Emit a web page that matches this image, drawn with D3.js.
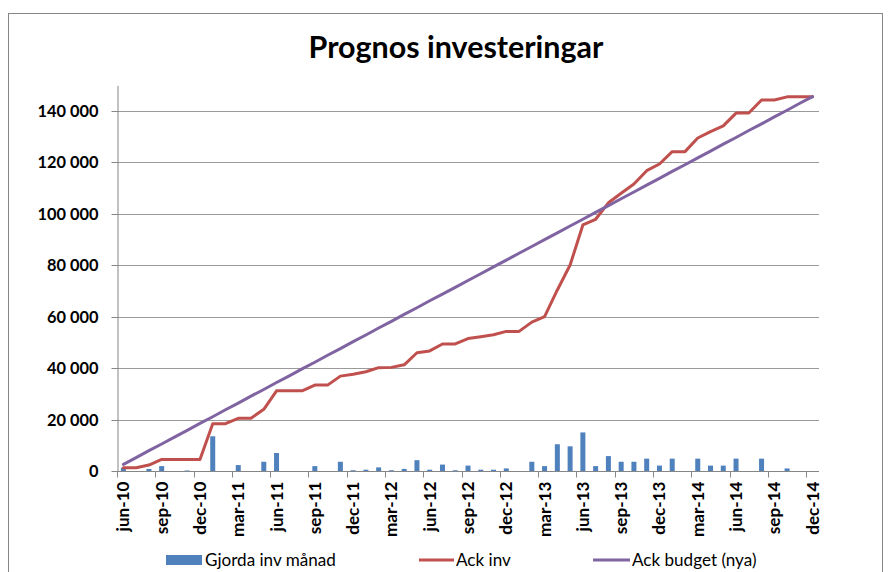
<!DOCTYPE html>
<html><head><meta charset="utf-8">
<script src="https://cdn.jsdelivr.net/npm/d3@7"></script>
<style>body{margin:0;background:#fff} svg{display:block}</style>
</head><body>
<svg id="c" width="893" height="572"></svg>
<script>
const title = "Prognos investeringar";
const categories = [
 "jun-10","jul-10","aug-10","sep-10","okt-10","nov-10","dec-10",
 "jan-11","feb-11","mar-11","apr-11","maj-11","jun-11","jul-11","aug-11","sep-11","okt-11","nov-11","dec-11",
 "jan-12","feb-12","mar-12","apr-12","maj-12","jun-12","jul-12","aug-12","sep-12","okt-12","nov-12","dec-12",
 "jan-13","feb-13","mar-13","apr-13","maj-13","jun-13","jul-13","aug-13","sep-13","okt-13","nov-13","dec-13",
 "jan-14","feb-14","mar-14","apr-14","maj-14","jun-14","jul-14","aug-14","sep-14","okt-14","nov-14","dec-14"];
const tickLabels = ["jun-10","sep-10","dec-10","mar-11","jun-11","sep-11","dec-11","mar-12","jun-12","sep-12","dec-12","mar-13","jun-13","sep-13","dec-13","mar-14","jun-14","sep-14","dec-14"];
const seriesNames = ["Gjorda inv månad","Ack inv","Ack budget (nya)"];
const gjordaInv = [1300,0,800,1900,0,200,0,13500,0,2300,0,3600,7000,0,0,1900,0,3600,300,500,1400,300,800,4200,500,2500,300,2100,500,500,1000,0,3600,1900,10400,9600,15000,1900,5800,3600,3600,4800,2100,4800,0,4800,2100,2100,4800,0,4800,0,1000,0,0];
const ackInv = [1300,1300,2300,4500,4500,4500,4500,18400,18400,20500,20500,24000,31200,31200,31200,33400,33400,36900,37600,38600,40200,40300,41300,46000,46700,49400,49400,51500,52200,53000,54300,54300,57900,60000,70400,80100,95700,97900,104300,108000,111600,116800,119400,124200,124200,129500,132000,134200,139200,139200,144300,144300,145500,145500,145500];
const ackBudget = [2600,5200,7900,10500,13200,15800,18500,21100,23800,26400,29100,31700,34400,37000,39700,42300,45000,47600,50300,52900,55600,58200,60900,63500,66200,68800,71400,74100,76700,79400,82000,84700,87300,90000,92600,95300,97900,100600,103200,105900,108500,111200,113800,116500,119100,121800,124400,127100,129700,132400,135000,137700,140300,143000,145600];
const yTicks = [0,20000,40000,60000,80000,100000,120000,140000];
const yMax = 150000;
const colors = ["#4F81BD","#C0504D","#8064A2"];

const W = 893, H = 572;
const svg = d3.select("#c");
const FONT = "Lato, 'Open Sans', sans-serif";
svg.append("rect").attr("width", W).attr("height", H).attr("fill", "#fff");
svg.append("rect").attr("x", 8.5).attr("y", 13.5).attr("width", 874).attr("height", 620)
  .attr("fill", "none").attr("stroke", "#868686").attr("stroke-width", 1);

const x = d3.scaleBand().domain(categories).range([117, 819]);
const y = d3.scaleLinear().domain([0, yMax]).range([471, 85.3]);
const cx = c => x(c) + x.bandwidth() / 2;

function fitText(sel, target) {
  const w = sel.node().getComputedTextLength();
  const fs = parseFloat(sel.attr("font-size"));
  sel.attr("font-size", fs * target / w);
  return fs * target / w;
}
function measureSize(str, weight, target) {
  const t = svg.append("text").attr("font-family", FONT).attr("font-weight", weight).attr("font-size", 20).text(str);
  const w = t.node().getComputedTextLength();
  t.remove();
  return 20 * target / w;
}

// gridlines
svg.append("g").selectAll("line").data(yTicks.filter(v => v > 0)).join("line")
  .attr("x1", 117).attr("x2", 819)
  .attr("y1", d => Math.round(y(d)) + 0.5).attr("y2", d => Math.round(y(d)) + 0.5)
  .attr("stroke", "#9a9a9a").attr("stroke-width", 1);

// y axis
const ySize = measureSize("140 000", "bold", 61);
const yAxis = svg.append("g").attr("transform", "translate(117.5,0)")
  .call(d3.axisLeft(y).tickValues(yTicks).tickSize(6).tickSizeOuter(0).tickPadding(13)
    .tickFormat(d => d3.format(",")(d).replace(/,/g, " ")));
yAxis.select(".domain").attr("stroke", "#868686");
yAxis.selectAll(".tick line").attr("stroke", "#868686");
yAxis.selectAll(".tick").attr("transform", d => `translate(0,${Math.round(y(d)) + 0.5})`);
yAxis.selectAll("text").attr("font-family", FONT).attr("font-weight", "bold")
  .attr("font-size", ySize).attr("fill", "#000");

// x axis
const xAxis = svg.append("g").attr("transform", "translate(0,471.5)");
xAxis.append("line").attr("x1", 117).attr("x2", 819).attr("stroke", "#868686");
xAxis.selectAll("line.tk").data(tickLabels).join("line").attr("class", "tk")
  .attr("x1", d => Math.round(x(d)) + 0.5).attr("x2", d => Math.round(x(d)) + 0.5)
  .attr("y1", 0).attr("y2", 6).attr("stroke", "#868686");
const xSize = measureSize("jun-10", "bold", 50);
xAxis.selectAll("text").data(tickLabels).join("text")
  .attr("transform", d => `translate(${cx(d)},10) rotate(-90)`)
  .attr("text-anchor", "end").attr("dy", "0.35em")
  .attr("font-family", FONT).attr("font-weight", "bold").attr("font-size", xSize).attr("fill", "#000")
  .text(d => d);

// bars
const barW = 5;
svg.append("g").selectAll("rect").data(gjordaInv).join("rect")
  .attr("x", (d, i) => cx(categories[i]) - barW / 2)
  .attr("y", d => y(d)).attr("width", barW).attr("height", d => y(0) - y(d))
  .attr("fill", colors[0]);

// lines
const line = d3.line().x((d, i) => cx(categories[i])).y(d => y(d));
[ackInv, ackBudget].forEach((arr, k) => {
  svg.append("path").datum(arr).attr("d", line).attr("fill", "none")
    .attr("stroke", colors[k + 1]).attr("stroke-width", 3)
    .attr("stroke-linejoin", "round").attr("stroke-linecap", "round");
});

// title
const t = svg.append("text").attr("x", 456).attr("y", 58).attr("text-anchor", "middle")
  .attr("font-family", FONT).attr("font-weight", "bold").attr("font-size", 28).attr("fill", "#000")
  .text(title);
fitText(t, 295);

// legend
const legY = 560;
const lg = svg.append("g");
const legSize = measureSize(seriesNames[0], "normal", 131);
lg.append("rect").attr("x", 166).attr("y", legY - 5).attr("width", 36).attr("height", 10).attr("fill", colors[0]);
lg.append("line").attr("x1", 419).attr("x2", 454).attr("y1", legY).attr("y2", legY).attr("stroke", colors[1]).attr("stroke-width", 3);
lg.append("line").attr("x1", 593).attr("x2", 630).attr("y1", legY).attr("y2", legY).attr("stroke", colors[2]).attr("stroke-width", 3);
const legX = [205, 456, 632];
seriesNames.forEach((n, i) => {
  lg.append("text").attr("x", legX[i]).attr("y", legY).attr("dy", "0.35em")
    .attr("font-family", FONT).attr("font-size", legSize).attr("fill", "#000").text(n);
});
</script>
</body></html>
